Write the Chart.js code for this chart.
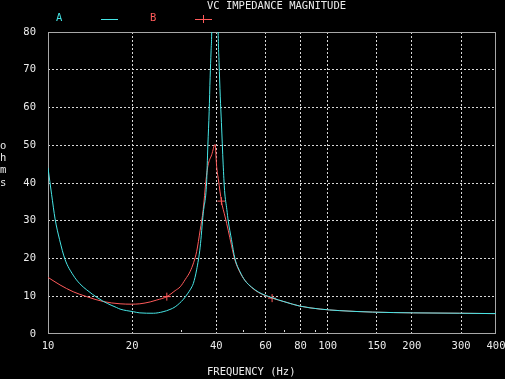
<!DOCTYPE html>
<html>
<head>
<meta charset="utf-8">
<script src="https://cdn.jsdelivr.net/npm/chart.js@4/dist/chart.umd.min.js"></script>
<style>
  html, body { margin: 0; padding: 0; background: #000; }
  #wrap { width: 505px; height: 379px; }
</style>
</head>
<body>
<div id="wrap"><canvas id="c" width="505" height="379"></canvas></div>
<script>
// ---- data ----
const titleText = "VC IMPEDANCE MAGNITUDE";
const xTitle = "FREQUENCY (Hz)";
const yTitle = "ohms";
const seriesNames = ["A", "B"];

const freqA = [10, 10.3, 10.6, 11, 11.5, 12.3, 13, 13.75, 15.1, 16.3, 17.6, 18.1, 20.2, 21.3, 23.8, 25.8, 27.3, 28.5, 30.5, 31.3, 32.7, 33.1, 34.0, 35.0, 35.9, 36.9, 37.3, 37.7, 38.0, 38.3, 38.5, 39.6, 40.6, 40.9, 41.3, 41.7, 42.3, 42.8, 43.6, 44.1, 45.3, 46.6, 48.6, 50.6, 53.5, 56.6, 63.3, 70.4, 79.5, 94, 110, 145, 203, 297, 400];
const valsA = [44, 37, 30.5, 25, 19.8, 15.6, 13.3, 11.7, 9.5, 8.1, 7.0, 6.6, 5.9, 5.6, 5.5, 5.9, 6.5, 7.2, 9.2, 10.3, 12.5, 13.4, 17.0, 23, 32, 40, 50, 59, 68, 75, 80, 160, 80, 72, 63, 56, 45, 38, 33, 30, 25, 20, 16.5, 14.2, 12.4, 11.1, 9.6, 8.5, 7.4, 6.6, 6.2, 5.8, 5.6, 5.5, 5.4];

const freqB = [10, 11.04, 12.3, 13.75, 15.76, 18.1, 19.9, 21.3, 23.2, 24.5, 26.6, 28.5, 29.7, 31.0, 32.2, 33.2, 34.0, 35.0, 35.9, 36.7, 37.3, 38.5, 39.6, 40.1, 40.7, 41.7, 43.0, 44.1, 45.3, 46.6, 48.6, 50.6, 53.5, 56.6, 63.3, 70.4, 79.5, 94, 110, 145, 203, 297, 400];
const valsB = [15, 13, 11.2, 9.9, 8.6, 8.0, 7.9, 8.0, 8.5, 9.0, 9.9, 11.5, 12.5, 14.5, 16.5, 19.0, 21.8, 27.5, 33, 40.5, 44.5, 47.5, 50.2, 44.3, 40.8, 35.2, 31, 27.5, 23.5, 19.6, 16.3, 14.2, 12.3, 11.0, 9.5, 8.5, 7.4, 6.6, 6.2, 5.8, 5.6, 5.5, 5.4];
const markersB = [26.6, 41.7, 63.3];

const xTickLabels = [10, 20, 40, 60, 80, 100, 150, 200, 300, 400];
const xGridValues = [20, 40, 60, 80, 100, 150, 200, 300];
const xMinorTicks = [30, 50, 70, 90];
const yTicks = [0, 10, 20, 30, 40, 50, 60, 70, 80];

// ---- styling ----
const CYAN = "#46e6e6";
const RED = "#ff5a5a";
const TEXT = "#ececec";
const GRID = "#d8d8d8";
const BOX = "#a8a8a8";
const FONT = '10.5px "DejaVu Sans Mono", "Liberation Mono", monospace';

const ptsA = freqA.map((f, i) => ({ x: f, y: valsA[i] }));
const ptsB = freqB.map((f, i) => ({ x: f, y: valsB[i] }));

const decorPlugin = {
  id: "decor",
  beforeDatasetsDraw(chart) {
    const { ctx, chartArea: a, scales } = chart;
    ctx.save();
    ctx.strokeStyle = BOX;
    ctx.lineWidth = 1;
    ctx.setLineDash([]);
    ctx.strokeRect(Math.round(a.left) + 0.5, Math.round(a.top) + 0.5,
                   Math.round(a.right) - Math.round(a.left) - 1,
                   Math.round(a.bottom) - Math.round(a.top) - 1);
    ctx.strokeStyle = GRID;
    xMinorTicks.forEach(v => {
      const px = Math.round(scales.x.getPixelForValue(v)) + 0.5;
      ctx.beginPath();
      ctx.moveTo(px, Math.round(a.bottom) - 4);
      ctx.lineTo(px, Math.round(a.bottom) - 2);
      ctx.stroke();
    });
    ctx.restore();
  },
  afterDraw(chart) {
    const { ctx } = chart;
    ctx.save();
    ctx.font = FONT;
    ctx.textBaseline = "middle";
    ctx.textAlign = "left";
    ctx.fillStyle = TEXT;
    ctx.fillText(titleText, 207, 6);
    ctx.fillStyle = CYAN;
    ctx.fillText(seriesNames[0], 56, 18);
    ctx.fillStyle = RED;
    ctx.fillText(seriesNames[1], 150, 18);
    ctx.lineWidth = 1;
    ctx.strokeStyle = CYAN;
    ctx.beginPath(); ctx.moveTo(101, 19.5); ctx.lineTo(118, 19.5); ctx.stroke();
    ctx.strokeStyle = RED;
    ctx.beginPath(); ctx.moveTo(195, 19.5); ctx.lineTo(212, 19.5); ctx.stroke();
    ctx.beginPath(); ctx.moveTo(203.5, 15); ctx.lineTo(203.5, 23); ctx.stroke();
    ctx.fillStyle = TEXT;
    ctx.fillText(xTitle, 207, 372);
    yTitle.split("").forEach((ch, i) => ctx.fillText(ch, 0, 146 + i * 12.3));
    ctx.restore();
  }
};

new Chart(document.getElementById("c"), {
  type: "line",
  data: {
    datasets: [
      {
        label: seriesNames[0],
        data: ptsA,
        borderColor: CYAN,
        borderWidth: 1,
        pointRadius: 0,
        cubicInterpolationMode: "monotone",
        fill: false
      },
      {
        label: seriesNames[1],
        data: ptsB,
        borderColor: RED,
        borderWidth: 1,
        pointStyle: "cross",
        pointBorderColor: RED,
        pointBorderWidth: 1,
        pointRadius: ctx => (ctx.raw && markersB.includes(ctx.raw.x)) ? 4 : 0,
        cubicInterpolationMode: "monotone",
        fill: false
      }
    ]
  },
  options: {
    responsive: false,
    devicePixelRatio: 1,
    animation: false,
    events: [],
    layout: { padding: { top: 32, right: 9, left: 0, bottom: 0 } },
    plugins: { legend: { display: false }, title: { display: false }, tooltip: { enabled: false } },
    scales: {
      x: {
        type: "logarithmic",
        min: 10,
        max: 400,
        afterBuildTicks: s => {
          const vals = [...new Set([...xTickLabels, ...xGridValues, ...xMinorTicks])].sort((a, b) => a - b);
          s.ticks = vals.map(v => ({ value: v }));
        },
        afterFit: s => { s.height = 45; s.paddingLeft = 0; s.paddingRight = 0; },
        ticks: {
          autoSkip: false,
          maxRotation: 0,
          minRotation: 0,
          padding: 6,
          color: TEXT,
          font: { family: '"DejaVu Sans Mono", monospace', size: 10.5 },
          callback: v => xTickLabels.includes(v) ? String(v) : ""
        },
        grid: {
          drawTicks: false,
          lineWidth: 1,
          color: c => (c.tick && xGridValues.includes(c.tick.value)) ? GRID : "rgba(0,0,0,0)"
        },
        border: { display: false, dash: [2, 2] }
      },
      y: {
        type: "linear",
        min: 0,
        max: 80,
        afterBuildTicks: s => { s.ticks = yTicks.map(v => ({ value: v })); },
        afterFit: s => { s.width = 48; s.paddingTop = 0; s.paddingBottom = 0; },
        ticks: {
          padding: 12,
          color: TEXT,
          font: { family: '"DejaVu Sans Mono", monospace', size: 10.5 }
        },
        grid: {
          drawTicks: false,
          lineWidth: 1,
          color: c => (c.tick && c.tick.value > 0 && c.tick.value < 80) ? GRID : "rgba(0,0,0,0)"
        },
        border: { display: false, dash: [2, 2] }
      }
    }
  },
  plugins: [decorPlugin]
});
</script>
</body>
</html>
